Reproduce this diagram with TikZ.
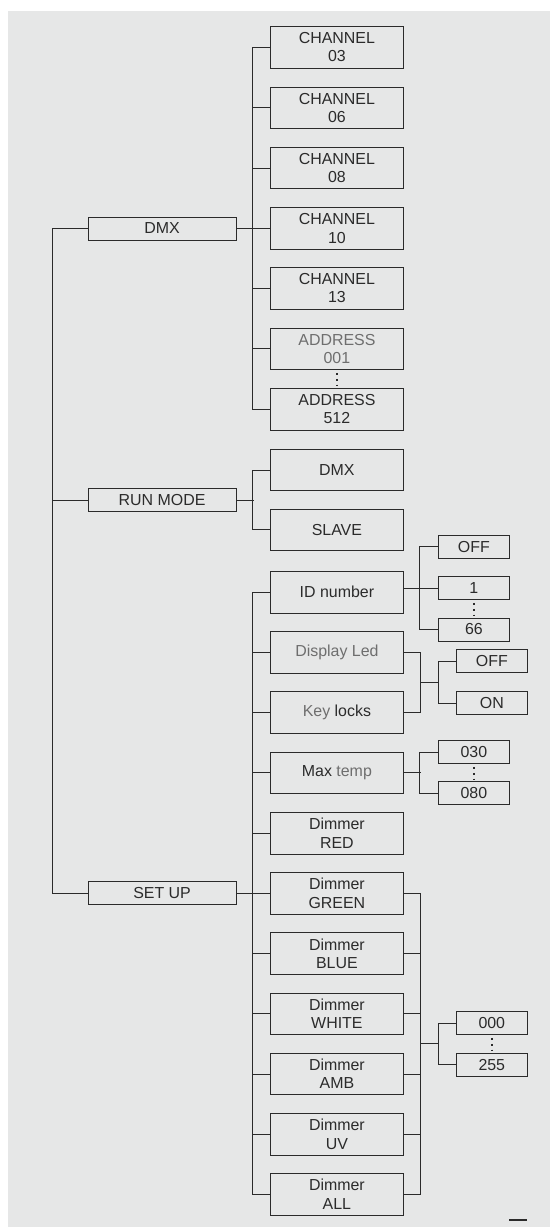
\documentclass[tikz,border=0pt]{standalone}
\usepackage{fontspec}
\setmainfont{Liberation Sans}
\definecolor{panel}{HTML}{E6E7E7}
\definecolor{ink}{HTML}{2B2B2B}
\definecolor{faded}{HTML}{6E6E6E}

\begin{document}
\begin{tikzpicture}[x=1bp, y=-1bp,
    menubox/.style={draw=ink, line width=0.8bp, fill=panel, inner sep=0pt,
      align=center, text=ink, font=\fontsize{16}{18.3}\selectfont},
    topbox/.style={menubox, minimum width=147.8bp, minimum height=23bp},
    itembox/.style={menubox, minimum width=132.6bp, minimum height=41.5bp},
    valbox/.style={menubox, minimum width=70.9bp, minimum height=23bp},
    wire/.style={draw=ink, line width=0.9bp},
    vdots/.style={draw=ink, line width=1.8bp, dash pattern=on 1.8bp off 4.1bp}]
  \useasboundingbox (0,0) rectangle (550,1227);
  \fill[panel] (8.4,11) rectangle (550,1227);

  % top level
  \node[topbox] (dmx) at (162.1,228.5) {DMX};
  \node[topbox] (runmode) at (162.1,500.2) {RUN MODE};
  \node[topbox] (setup) at (162.1,893.3) {SET UP};

  % DMX menu
  \foreach \name/\yp/\num in {ch03/47.3/03, ch06/107.7/06, ch08/168/08,
      ch10/228.5/10, ch13/288.3/13} {
    \node[itembox] (\name) at (336.9,\yp) {CHANNEL\\\num};
  }
  \node[itembox, text=faded] (addr001) at (336.9,348.7) {ADDRESS\\001};
  \node[itembox] (addr512) at (336.9,409.2) {ADDRESS\\512};

  % run mode menu
  \node[itembox] (rmdmx) at (336.9,470) {DMX};
  \node[itembox] (slave) at (336.9,529.7) {SLAVE};

  % set up menu
  \node[itembox] (idnum) at (336.9,592.2) {ID number};
  \node[itembox, text=faded] (displed) at (336.9,652.2) {Display Led};
  \node[itembox] (keylocks) at (336.9,712.5) {{\color{faded}Key} locks};
  \node[itembox] (maxtemp) at (336.9,772.7) {Max {\color{faded}temp}};
  \foreach \name/\yp/\col in {red/833.2/RED, green/893.3/GREEN,
      blue/953.5/BLUE, white/1013.7/WHITE, amb/1074/AMB, uv/1134.2/UV,
      all/1194.3/ALL} {
    \node[itembox] (\name) at (336.9,\yp) {Dimmer\\\col};
  }

  % values
  \node[valbox] (idoff) at (473.9,546.8) {OFF};
  \node[valbox] (id1) at (473.9,588) {1};
  \node[valbox] (id66) at (473.9,629.5) {66};
  \node[valbox] (ledoff) at (491.8,661.3) {OFF};
  \node[valbox] (ledon) at (491.8,703) {ON};
  \node[valbox] (t030) at (473.9,752) {030};
  \node[valbox] (t080) at (473.9,793.3) {080};
  \node[valbox] (d000) at (491.8,1023) {000};
  \node[valbox] (d255) at (491.8,1064.7) {255};

  % main trunk
  \draw[wire] (dmx.west) -- ++(-35.7,0) |- (setup.west);
  \draw[wire] (runmode.west) -- ++(-35.7,0);

  % DMX branch
  \draw[wire] (ch03.west) -- ++(-17.3,0) |- (addr512.west);
  \foreach \n in {ch06,ch08,ch13,addr001}
    \draw[wire] (\n.west) -- ++(-17.3,0);
  \draw[wire] (dmx.east) -- (ch10.west);

  % run mode branch
  \draw[wire] (rmdmx.west) -- ++(-17.3,0) |- (slave.west);
  \draw[wire] (runmode.east) -- ++(17.3,0);

  % set up branch
  \draw[wire] (idnum.west) -- ++(-17.3,0) |- (all.west);
  \foreach \n in {displed,keylocks,maxtemp,red,blue,white,amb,uv}
    \draw[wire] (\n.west) -- ++(-17.3,0);
  \draw[wire] (setup.east) -- (green.west);

  % ID number
  \draw[wire] (idoff.west) -- ++(-18.2,0) |- (id66.west);
  \draw[wire] (idnum.east |- id1.west) -- (id1.west);

  % display led / key locks
  \coordinate (ledfork) at (438.4,682.2);
  \draw[wire] (displed.east) -- ++(17,0) |- (keylocks.east);
  \draw[wire] (ledoff.west) -| (ledfork) |- (ledon.west);
  \draw[wire] (ledfork) -- ++(-18.2,0);

  % max temp
  \draw[wire] (maxtemp.east) -- ++(17,0);
  \draw[wire] (t030.west) -- ++(-18.2,0) |- (t080.west);

  % dimmers
  \draw[wire] (green.east) -- ++(17,0) |- (all.east);
  \foreach \n in {blue,white,amb,uv}
    \draw[wire] (\n.east) -- ++(17,0);
  \coordinate (dimfork) at (438.4,1043.8);
  \draw[wire] (d000.west) -| (dimfork) |- (d255.west);
  \draw[wire] (dimfork) -- ++(-18.2,0);

  % ellipses
  \foreach \n in {addr001,id1,t030,d000}
    \draw[vdots] (\n.south) ++(0,3) -- ++(0,13.5);

  \draw[ink, line width=1.5bp] (509,1220) -- (527,1220);
\end{tikzpicture}
\end{document}
